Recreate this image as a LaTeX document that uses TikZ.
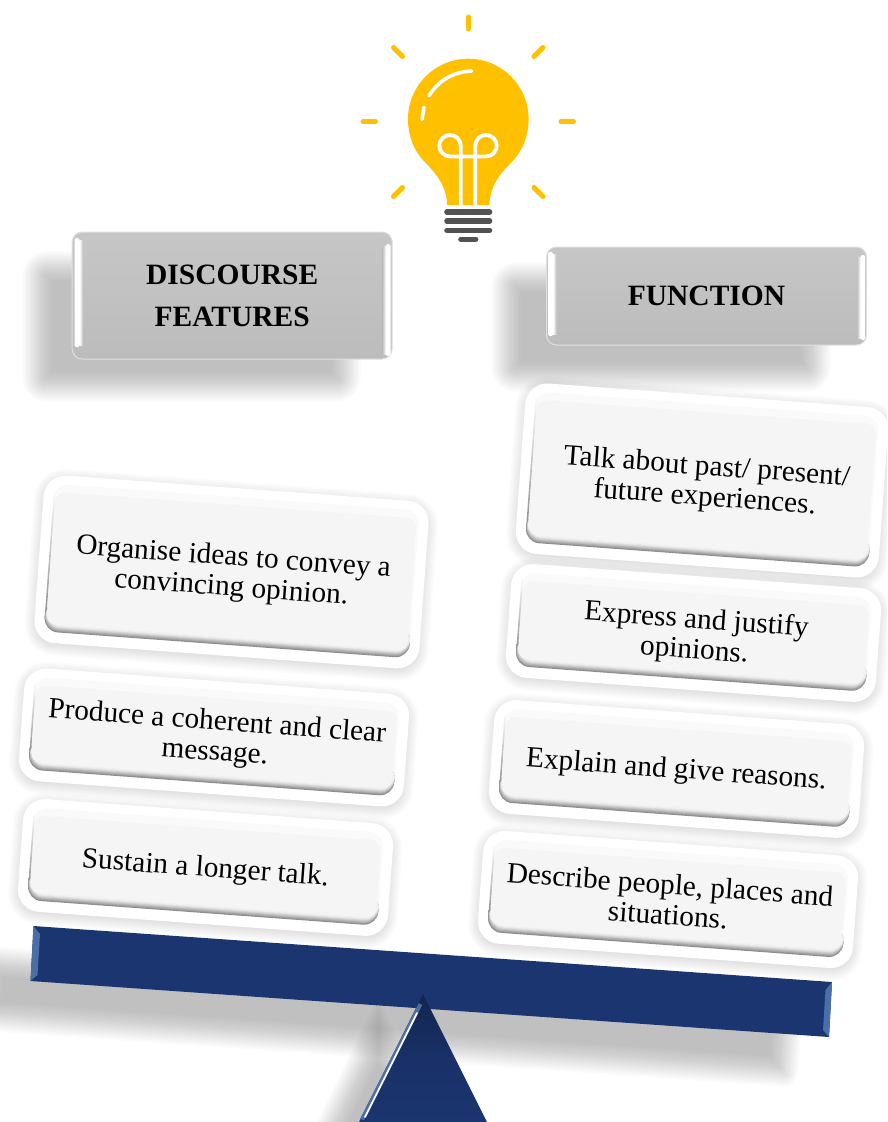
\documentclass[tikz,border=0pt]{standalone}
\usepackage{fontspec}
\setmainfont{Liberation Serif}
\definecolor{bulby}{HTML}{FFC000}
\definecolor{screwg}{HTML}{525252}
\definecolor{beamb}{HTML}{1B3570}
\definecolor{beaml}{HTML}{4A6FA8}
\definecolor{headtop}{HTML}{C6C6C6}
\definecolor{headbot}{HTML}{BCBCBC}
\definecolor{headmid}{HTML}{C0C0C0}
\tikzset{
  ray/.style={bulby,line width=5pt,line cap=round},
  glint/.style={white,line width=3.6pt,line cap=round},
  filament/.style={white,line width=3.8pt},
  screwbar/.style={screwg,line width=5.6pt,line cap=round},
  headbox/.style={draw=headtop!55!white,line width=1pt,rounded corners=10pt,top color=headtop,bottom color=headbot,
    align=center,inner sep=0pt,font=\fontsize{29.5}{42}\selectfont\bfseries,text=black},
  cardtext/.style={transform shape,align=center,inner sep=0pt,font=\fontsize{29.3}{30.5}\selectfont,text=black},
  glarecore/.style={white,rounded corners=1.5pt}
}
% soft shadow: x1 y1 x2 y2 blur radius alpha
\newcommand{\blurbox}[7]{%
  \foreach \ii in {0,...,23}{%
    \pgfmathsetmacro{\mybd}{#5*(1-\ii/11.5)}%
    \pgfmathsetmacro{\mybr}{max(#6+\mybd,1)}%
    \fill[black,opacity=#7,rounded corners=\mybr pt] ({#1-\mybd},{#2-\mybd}) rectangle ({#3+\mybd},{#4+\mybd});
  }}
% name cx cy W H angle dx dy text
\newcommand{\card}[9]{%
  \begin{scope}[shift={(#2,#3)},rotate=-#6]
    \pgfmathsetmacro{\hw}{#4/2}\pgfmathsetmacro{\hh}{#5/2}
    \blurbox{-\hw}{-\hh+3}{\hw}{\hh+3}{10}{22}{0.008}
    \fill[white,rounded corners=22pt] (-\hw,-\hh) rectangle (\hw,\hh);
    \fill[black!2,rounded corners=14pt] ({-\hw+10},{-\hh+9}) rectangle ({\hw-10},{\hh-11});
    \shade[top color=black!2,bottom color=black!45] ({-\hw+10},{-\hh+16}) rectangle ({-\hw+11.6},{\hh-24});
    \foreach \ii/\cc in {0/8C8C8C,1/9C9C9C,2/ADADAD,3/BDBDBD,4/CDCDCD,5/DCDCDC,6/E8E8E8,7/F0F0F0}{%
      \definecolor{cardshade}{HTML}{\cc}%
      \fill[cardshade,rounded corners=14pt] ({-\hw+10+\ii*0.25},{\hh-42}) rectangle ({\hw-10},{\hh-11-\ii*0.9});
    }
    \fill[black!4,rounded corners=10pt] ({-\hw+12},{-\hh+17}) rectangle ({\hw-12},{\hh-18.5});
    \node[cardtext] (#1) at (#7,#8) {#9};
  \end{scope}}
\begin{document}
\begin{tikzpicture}[x=1pt,y=-1pt]
\useasboundingbox (0,0) rectangle (887,1122);
\clip (0,0) rectangle (887,1122);

% ---- light bulb
\draw[ray] (468.3,17) -- (468.3,29);
\draw[ray] (393.5,47.5) -- (402.5,56.5);
\draw[ray] (543,47.5) -- (534,56.5);
\draw[ray] (363,121.7) -- (375.5,121.7);
\draw[ray] (561,121.7) -- (573.5,121.7);
\draw[ray] (402.5,187.5) -- (393.5,196.5);
\draw[ray] (534,187.5) -- (543,196.5);
\fill[bulby] (447.3,205) .. controls (446,183) and (434,172) .. (423,160)
  .. controls (413.5,150) and (408,135) .. (408,119)
  arc[start angle=180,end angle=360,radius=60.3]
  .. controls (528.6,135) and (523,150) .. (513.5,160)
  .. controls (502,172) and (490.5,183) .. (489.3,205) -- cycle;
\draw[glint] (471.7,71) .. controls (452,72) and (438,81) .. (429,95.7);
\draw[glint] (424,107.3) -- (422,119.3);
\draw[filament] (460.7,205) -- (460.7,145.7) arc[start angle=0,end angle=-270,radius=10.7] -- (486,156.4)
  arc[start angle=90,end angle=-180,radius=10.7] -- (475.3,205);
\draw[screwbar] (447,212) -- (489.5,212);
\draw[screwbar] (447,221) -- (489.5,221);
\draw[screwbar] (447,230.3) -- (489.5,230.3);
\draw[screwbar] (461,239.3) -- (475.6,239.3);

% ---- header shadows
\blurbox{37}{266}{346}{387}{15}{10}{0.0125}
\blurbox{506}{277}{816}{377}{15}{10}{0.0125}

% ---- cards
\card{cTalk}{702}{480.5}{364}{171}{4.2}{4}{2.5}{Talk about past/ present/\\future experiences.}
\card{cExpress}{693.5}{633}{371}{114}{4.2}{2}{3}{Express and justify\\opinions.}
\card{cExplain}{676.5}{769}{371}{114}{4.2}{0}{2}{Explain and give reasons.}
\card{cDescribe}{668}{899.5}{376}{113}{4.2}{1}{0}{Describe people, places and\\situations.}
\card{cOrganise}{231.5}{572}{386}{168}{4.2}{1}{1.5}{Organise ideas to convey a\\convincing opinion.}
\card{cProduce}{214}{737.5}{386}{113}{4.2}{2}{0.5}{Produce a coherent and clear\\message.}
\card{cSustain}{205.5}{867.5}{371}{113}{4.2}{0}{2}{Sustain a longer talk.}

% ---- header boxes
\node[headbox,minimum width=320pt,minimum height=127pt] (hDisc) at (232.2,295.5) {DISCOURSE\\FEATURES};
\node[headbox,minimum width=320pt,minimum height=98pt] (hFunc) at (706.5,296) {FUNCTION};
\fill[glarecore] (74.5,238) rectangle (79.5,347);
\shade[left color=white,right color=headmid] (79.5,240) rectangle (83,345);
\fill[glarecore] (386,244) rectangle (390.5,356);
\shade[left color=headmid,right color=white] (382.5,246) rectangle (386,354);
\fill[glarecore] (548,252) rectangle (553,336);
\shade[left color=white,right color=headmid] (553,254) rectangle (556.5,334);
\fill[glarecore] (860.5,255) rectangle (865,340);
\shade[left color=headmid,right color=white] (857,257) rectangle (860.5,338);

% ---- shadows of beam and pivot
\begin{scope}[shift={(386,1016.5)},rotate=-4]
  \blurbox{-400.5}{-27.5}{400.5}{27.5}{15}{0}{0.0125}
\end{scope}
\foreach \ii in {0,...,23}{%
  \pgfmathsetmacro{\mybd}{15*(1-\ii/11.5)}%
  \fill[black,opacity=0.0125] (378,{1029-2.2*\mybd}) -- ({314-1.1*\mybd},1160) -- ({442+1.1*\mybd},1160) -- cycle;
}

% ---- beam
\coordinate (bTL) at (33.5,926);
\coordinate (bTR) at (832,982);
\coordinate (bBR) at (829,1037);
\coordinate (bBL) at (30.5,981);
\fill[beamb] (bTL) -- (bTR) -- (bBR) -- (bBL) -- cycle;
\fill[beaml] (bTL) -- (40,934) -- (37.5,975) -- (bBL) -- cycle;
\fill[beaml] (bTR) -- (825.5,990) -- (823,1030) -- (bBR) -- cycle;

% ---- pivot
\coordinate (pA) at (423,994);
\coordinate (pL) at (359,1122);
\coordinate (pR) at (487,1122);
\shade[top color=beamb!70!black,bottom color=beamb,middle color=beamb!92!black] (pA) -- (pR) -- (pL) -- cycle;
\draw[beaml,line width=4pt] (420.5,1004) -- (362,1119.5);
\draw[white,line width=1.8pt,line cap=round] (417,1013) -- (365,1117);
\end{tikzpicture}
\end{document}
